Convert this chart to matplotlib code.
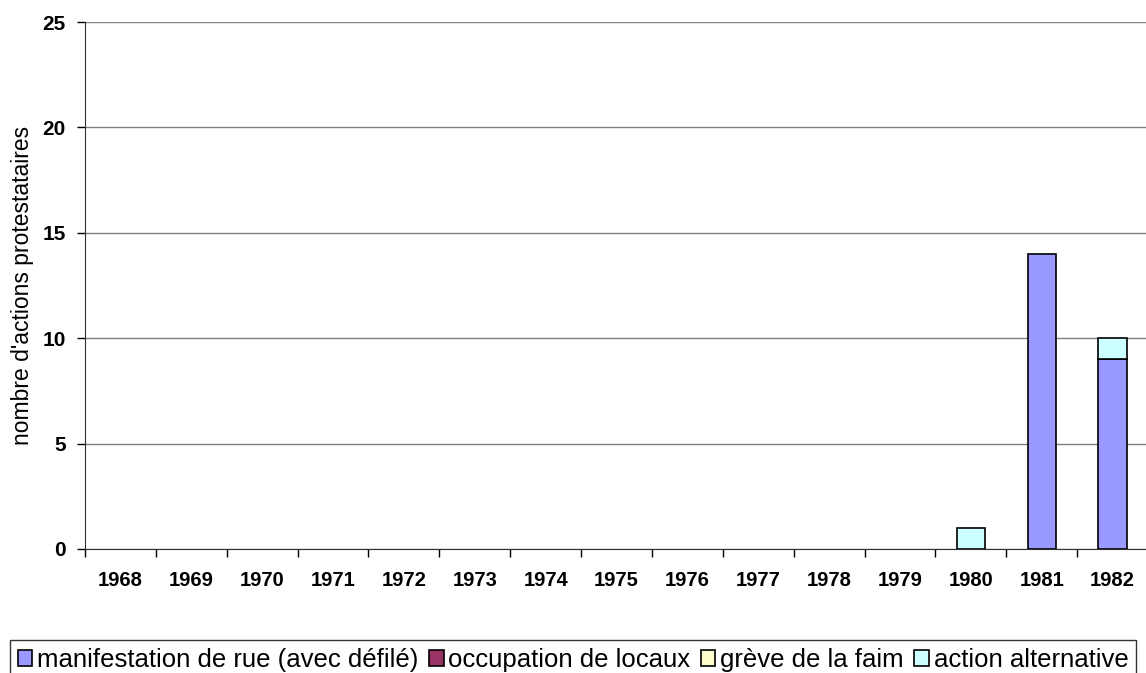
import matplotlib.pyplot as plt
import numpy as np

plt.rcParams['font.family'] = ['Liberation Sans', 'DejaVu Sans']

years = [str(y) for y in range(1968, 1983)]
manifestation = [0, 0, 0, 0, 0, 0, 0, 0, 0, 0, 0, 0, 0, 14, 9]
occupation = [0] * 15
greve = [0] * 15
alternative = [0, 0, 0, 0, 0, 0, 0, 0, 0, 0, 0, 0, 1, 0, 1]

series = [
    ('manifestation de rue (avec défilé)', manifestation, '#9999ff'),
    ('occupation de locaux', occupation, '#993366'),
    ('grève de la faim', greve, '#ffffcc'),
    ('action alternative', alternative, '#ccffff'),
]

fig = plt.figure(figsize=(11.46, 6.73), dpi=100)
ax = fig.add_axes([85 / 1146, 1 - 549 / 673, 1063 / 1146, 527 / 673])

x = np.arange(len(years))
bottom = np.zeros(len(years))
handles = []
for label, vals, color in series:
    vals = np.array(vals, dtype=float)
    # skip zero-height bars so they don't leave black lines on the baseline
    mask = vals > 0
    ax.bar(x[mask], vals[mask], 0.4, bottom=bottom[mask], color=color,
           edgecolor='black', linewidth=1.2, zorder=3)
    handles.append(plt.Rectangle((0, 0), 1, 1, facecolor=color,
                                 edgecolor='black', linewidth=1.2))
    bottom += vals

ax.set_xlim(-0.5, len(years) - 0.5)
ax.set_ylim(0, 25)
ax.set_yticks(range(0, 26, 5))
ax.yaxis.grid(True, color='#808080', linewidth=1)
ax.set_axisbelow(True)

ax.set_xticks(x)
ax.set_xticklabels(years, fontweight='bold', fontsize=14.5)
ax.set_xticks(np.arange(-0.5, len(years), 1), minor=True)
ax.tick_params(axis='x', which='major', length=0, pad=16)
ax.tick_params(axis='x', which='minor', length=6, width=1, direction='out')
ax.tick_params(axis='y', length=6, width=1, direction='out', labelsize=15, pad=8)
for t in ax.get_yticklabels():
    t.set_fontweight('bold')

ax.spines['top'].set_visible(False)
ax.spines['right'].set_visible(False)
ax.spines['left'].set_color('#303030')
ax.spines['bottom'].set_color('#303030')

ax.set_ylabel("nombre d'actions protestataires", fontsize=16.5, labelpad=6)

leg = fig.legend(handles, [s[0] for s in series], loc='upper left',
                 bbox_to_anchor=(10 / 1146, 1 - 640 / 673), ncol=4,
                 fontsize=18.5, frameon=True, fancybox=False,
                 handlelength=0.57, handleheight=0.57, handletextpad=0.19,
                 columnspacing=0.4, borderpad=0.3, borderaxespad=0)
leg.get_frame().set_edgecolor('black')
leg.get_frame().set_linewidth(1)

fig.savefig('out.png', dpi=100)
